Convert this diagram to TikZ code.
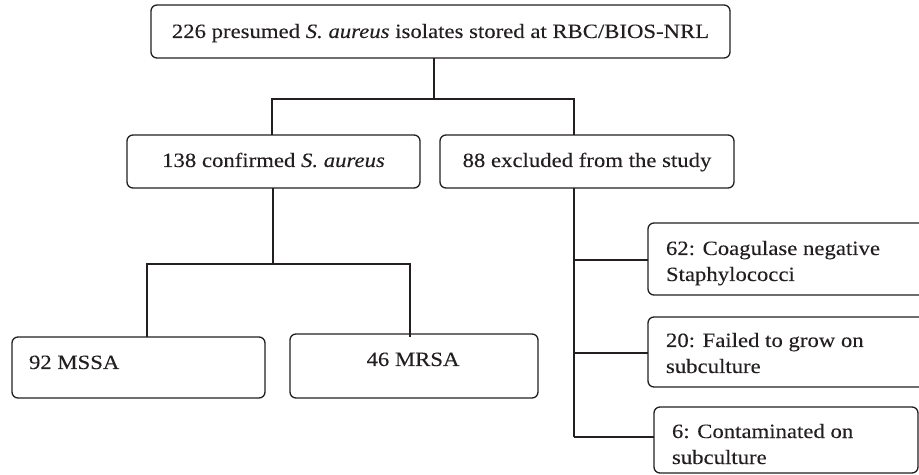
\documentclass[tikz,border=0pt]{standalone}
\usepackage{fontspec}
\setmainfont{Liberation Serif}[FakeStretch=1.12,FakeBold=0.12]
\definecolor{ink}{HTML}{231F20}
\begin{document}
\begin{tikzpicture}[x=1bp,y=-1bp,
  boxst/.style={draw=ink,line width=1.3bp,rounded corners=6bp,inner sep=0pt,outer sep=0pt},
  lbl/.style={inner sep=0pt,outer sep=0pt,text=ink,font=\fontsize{20.3bp}{26bp}\selectfont},
  conn/.style={draw=ink,line width=1.3bp}]
\useasboundingbox (0,0) rectangle (919,475);
\clip (0,0) rectangle (919,475);
% boxes
\node[boxst,minimum width=579bp,minimum height=53bp] (top) at (440.5,31.5) {};
\node[boxst,minimum width=293bp,minimum height=53bp] (b138) at (273.5,161.5) {};
\node[boxst,minimum width=294bp,minimum height=53bp] (b88) at (587,161.5) {};
\node[boxst,minimum width=253bp,minimum height=61bp] (mssa) at (138.5,367.5) {};
\node[boxst,minimum width=248bp,minimum height=64bp] (mrsa) at (414,366) {};
\node[boxst,minimum width=277bp,minimum height=72bp] (c62) at (786.5,259) {};
\node[boxst,minimum width=277bp,minimum height=70bp] (c20) at (786.5,352) {};
\node[boxst,minimum width=264bp,minimum height=66bp] (c6) at (786,440) {};
% labels
\node[lbl,anchor=base] (topt) at (440.5,38) {226 presumed \textit{S. aureus} isolates stored at RBC/BIOS-NRL};
\node[lbl,anchor=base] (b138t) at (273.5,167) {138 confirmed \textit{S. aureus}};
\node[lbl,anchor=base] (b88t) at (587,167) {88 excluded from the study};
\node[lbl,anchor=base west] (mssat) at (29,369) {92 MSSA};
\node[lbl,anchor=base] (mrsat) at (413,366) {46 MRSA};
\node[lbl,anchor=base west] (c62t) at (666,255) {\begin{tabular}[t]{@{}l@{}}62: Coagulase negative\\Staphylococci\end{tabular}};
\node[lbl,anchor=base west] (c20t) at (666,347) {\begin{tabular}[t]{@{}l@{}}20: Failed to grow on\\subculture\end{tabular}};
\node[lbl,anchor=base west] (c6t) at (672,438) {\begin{tabular}[t]{@{}l@{}}6: Contaminated on\\subculture\end{tabular}};
% junctions
\coordinate (j1) at (434,99);
\coordinate (j1l) at (272,99);
\coordinate (j1r) at (574,99);
\coordinate (j2) at (273,264);
\coordinate (j2l) at (147,264);
\coordinate (j2r) at (410,264);
\coordinate (k1) at (574,260);
\coordinate (k2) at (574,353);
\coordinate (k3) at (574,437);
% connectors
\draw[conn] (j1 |- top.south) -- (j1);
\draw[conn] (j1l |- b138.north) -- (j1l) -- (j1r) -- (j1r |- b88.north);
\draw[conn] (j2 |- b138.south) -- (j2);
\draw[conn] (j2l |- mssa.north) -- (j2l) -- (j2r) -- ([yshift=-3bp]j2r |- mrsa.north);
\draw[conn] (k1 |- b88.south) -- (k3);
\draw[conn] (k1) -- (k1 -| c62.west);
\draw[conn] (k2) -- (k2 -| c20.west);
\draw[conn] (k3) -- (k3 -| c6.west);
\end{tikzpicture}
\end{document}
